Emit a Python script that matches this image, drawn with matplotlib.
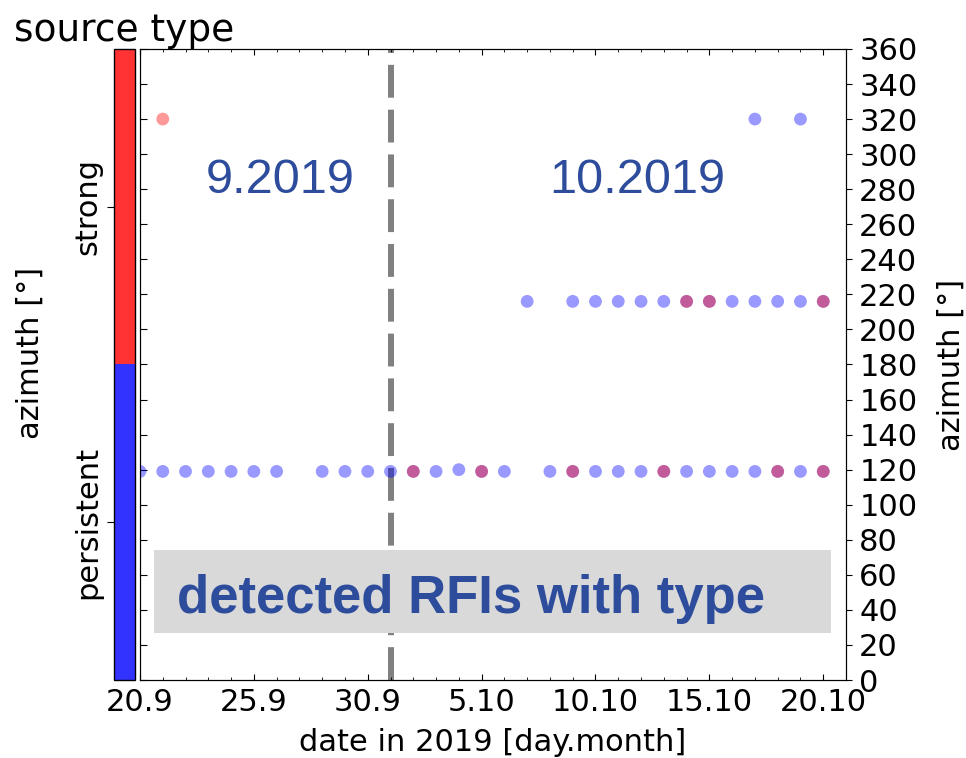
import numpy as np
import pandas as pd
import matplotlib
matplotlib.use('Agg')
import matplotlib.pyplot as plt
import matplotlib.dates as mdates
from matplotlib.colors import ListedColormap, BoundaryNorm
from matplotlib.cm import ScalarMappable
from matplotlib.patches import Rectangle
from matplotlib.ticker import FuncFormatter

# persistent sources (blue)
pers_dias_120 = ['20.9', '21.9', '22.9', '23.9', '24.9', '25.9', '26.9',
                 '28.9', '29.9', '30.9', '1.10', '2.10', '3.10', '4.10', '5.10', '6.10',
                 '8.10', '9.10', '10.10', '11.10', '12.10', '13.10', '14.10', '15.10',
                 '16.10', '17.10', '18.10', '19.10', '20.10']
pers_az_120 = [119, 119, 119, 119, 119, 119, 119,
               119, 119, 119, 119, 119, 119, 120, 119, 119,
               119, 119, 119, 119, 119, 119, 119, 119,
               119, 119, 119, 119, 119]
pers_dias_216 = ['7.10', '9.10', '10.10', '11.10', '12.10', '13.10', '14.10',
                 '15.10', '16.10', '17.10', '18.10', '19.10', '20.10']
pers_az_216 = [216] * len(pers_dias_216)
pers_dias_320 = ['17.10', '19.10']
pers_az_320 = [320, 320]

# strong sources (red)
strong_dias = ['21.9', '2.10', '5.10', '9.10', '13.10', '18.10', '20.10',
               '14.10', '15.10', '20.10']
strong_az = [320, 119, 119, 119, 119, 119, 119, 216, 216, 216]

# eixo x
ticks_x = ['20.9', '25.9', '30.9', '5.10', '10.10', '15.10', '20.10']
inicio, fim = '20.9', '21.10'
troca_mes = '1.10'


def para_data(lista):
    return pd.to_datetime([d + '.2019' for d in lista], format='%d.%m.%Y')


pers_dias = para_data(pers_dias_120 + pers_dias_216 + pers_dias_320)
pers_az = pers_az_120 + pers_az_216 + pers_az_320

azul_txt = '#2d4c9c'
fonte_txt = 'Liberation Sans'

fig = plt.figure(figsize=(9.66, 7.58), dpi=100)
ax = fig.add_axes([0.1449, 0.1029, 0.7309, 0.8325])

ax.axvline(para_data([troca_mes])[0], color='grey', lw=4.3, ls=(0, (5.5, 2)), zorder=1)
ax.scatter(pers_dias, pers_az, s=85, color='blue', alpha=0.4, edgecolors='none', zorder=3)
ax.scatter(para_data(strong_dias), strong_az, s=85, color='red', alpha=0.4, edgecolors='none', zorder=4)

ax.set_xlim(para_data([inicio])[0], para_data([fim])[0])
ax.set_ylim(0, 360)
ax.set_yticks(np.arange(0, 361, 20))
ax.set_xticks(para_data(ticks_x))
ax.xaxis.set_minor_locator(mdates.DayLocator())
ax.xaxis.set_major_formatter(FuncFormatter(lambda v, p: '%d.%d' % (mdates.num2date(v).day, mdates.num2date(v).month)))
ax.tick_params(axis='x', which='both', direction='in', top=True, labelsize=22, pad=6)
ax.tick_params(axis='x', which='major', length=4.5)
ax.tick_params(axis='x', which='minor', length=2.5)
ax.tick_params(axis='y', direction='in', length=5, labelleft=False)
ax.set_xlabel('date in 2019 [day.month]', fontsize=22, labelpad=8)

# caixa cinza com texto
ax.add_patch(Rectangle((0.0198, 0.0745), 0.959, 0.1315, transform=ax.transAxes,
                       facecolor='#d9d9d9', edgecolor='none', zorder=5))
ax.text(0.469, 0.106, 'detected RFIs with type', transform=ax.transAxes, ha='center',
        va='baseline', fontsize=38, fontweight='bold', color=azul_txt, family=fonte_txt, zorder=6)
ax.text(0.198, 0.772, '9.2019', transform=ax.transAxes, ha='center', va='baseline',
        fontsize=35, color=azul_txt, family=fonte_txt)
ax.text(0.704, 0.772, '10.2019', transform=ax.transAxes, ha='center', va='baseline',
        fontsize=35, color=azul_txt, family=fonte_txt)

ax2 = ax.twinx()
ax2.set_ylim(0, 360)
ax2.set_yticks(np.arange(0, 361, 20))
ax2.tick_params(axis='y', direction='out', length=4.5, labelsize=22, pad=5)
ax2.set_ylabel('azimuth [°]', fontsize=22, labelpad=14)

# barra de tipo de fonte
cax = fig.add_axes([0.118, 0.1029, 0.0217, 0.8325])
cmap = ListedColormap(['#3333ff', '#ff3333'])
norm = BoundaryNorm([0, 180, 360], 2)
cb = fig.colorbar(ScalarMappable(norm=norm, cmap=cmap), cax=cax, ticks=[90, 270])
cb.ax.yaxis.set_ticks_position('left')
cb.ax.set_yticklabels(['persistent', 'strong'], rotation=90, va='center', fontsize=22)
cb.ax.tick_params(length=5)
cb.ax.minorticks_off()
cb.outline.set_linewidth(1)
cb.ax.set_title('source type', fontsize=27)

fig.text(0.031, 0.534, 'azimuth [°]', rotation=90, ha='center', va='center', fontsize=22)

plt.savefig('out.png', dpi=100)
